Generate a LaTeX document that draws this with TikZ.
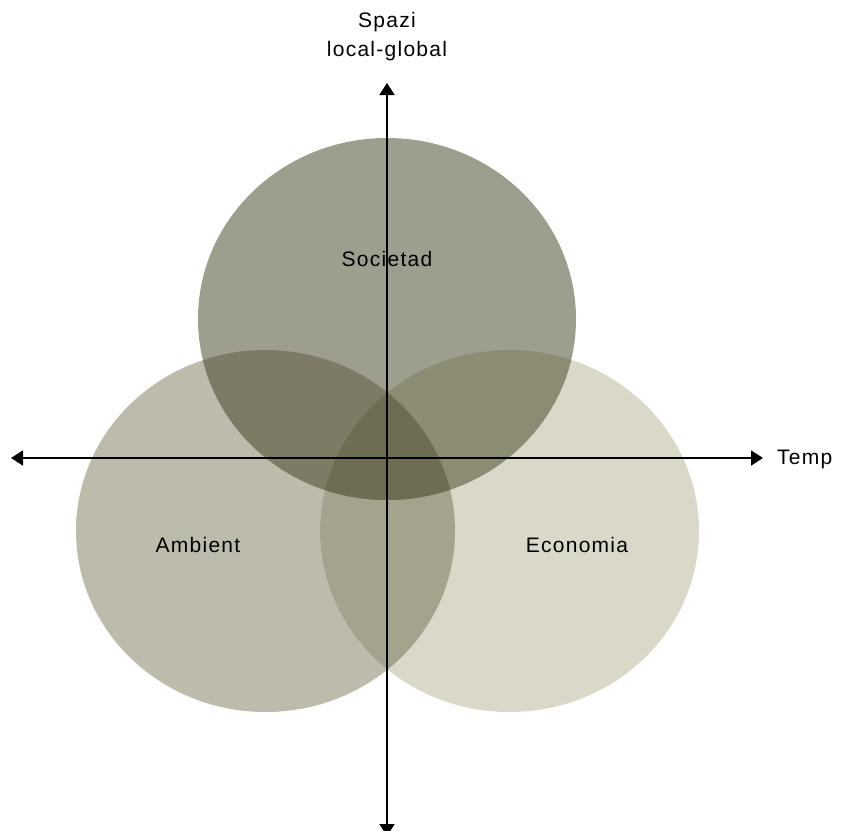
\documentclass[tikz,border=0pt]{standalone}
\usepackage{fontspec}
\setmainfont[LetterSpace=6]{Liberation Sans}
\usetikzlibrary{arrows.meta}
\definecolor{cA}{RGB}{157,158,142}
\definecolor{cB}{RGB}{189,187,171}
\definecolor{cC}{RGB}{217,216,201}
\definecolor{cAB}{RGB}{125,123,101}
\definecolor{cAC}{RGB}{140,139,116}
\definecolor{cBC}{RGB}{164,164,142}
\definecolor{cABC}{RGB}{110,108,82}
\tikzset{
  axis/.style={line width=1.8pt,-{Triangle[width=15pt,length=12pt]}},
  lbl/.style={font=\fontsize{21}{26}\selectfont,text=black,inner sep=0pt}
}
\begin{document}
\begin{tikzpicture}[x=1pt,y=-1pt]
\useasboundingbox (0,0) rectangle (846,830);
\clip (0,0) rectangle (846,830);
\def\ellA{(387,319) ellipse [x radius=189,y radius=181]}
\def\ellB{(265.5,531) ellipse [x radius=189.5,y radius=181]}
\def\ellC{(509.5,531) ellipse [x radius=189.5,y radius=181]}
\fill[cB] \ellB;
\fill[cC] \ellC;
\fill[cA] \ellA;
\begin{scope}\clip \ellB; \fill[cBC] \ellC; \end{scope}
\begin{scope}\clip \ellA; \fill[cAB] \ellB; \end{scope}
\begin{scope}\clip \ellA; \fill[cAC] \ellC; \end{scope}
\begin{scope}\clip \ellA; \clip \ellB; \fill[cABC] \ellC; \end{scope}
\coordinate (o) at (387,458);
\coordinate (top) at (387,83);
\coordinate (bot) at (387,836);
\coordinate (left) at (11,458);
\coordinate (right) at (763,458);
\draw[axis] (o) -- (top);
\draw[axis] (o) -- (bot);
\draw[axis] (o) -- (left);
\draw[axis] (o) -- (right);
\node[lbl] (spazi) at (387,22) {Spazi};
\node[lbl] (lg) at (387,51) {local-global};
\node[lbl,anchor=west] (temp) at (777,459) {Temp};
\node[lbl] (soc) at (387,259) {Societad};
\node[lbl] (amb) at (198,545) {Ambient};
\node[lbl] (eco) at (577,545) {Economia};
\end{tikzpicture}
\end{document}
